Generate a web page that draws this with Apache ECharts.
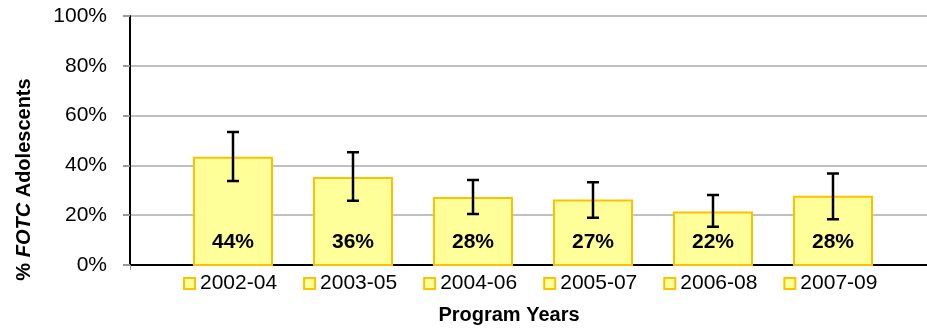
<!DOCTYPE html>
<html>
<head>
<meta charset="utf-8">
<script src="https://cdn.jsdelivr.net/npm/echarts@6/dist/echarts.min.js"></script>
<style>
  html, body { margin: 0; padding: 0; background: #fff; }
  #chart { width: 927px; height: 330px; }
</style>
</head>
<body>
<div id="chart"></div>
<script>
// program years (one bar each, shown in legend)
var years = ['2002-04', '2003-05', '2004-06', '2005-07', '2006-08', '2007-09']
// % FOTC adolescents
var pct = [43.7, 35.6, 27.6, 26.6, 21.8, 28.1]
// error bar ends
var errLow = [34.0, 26.1, 20.8, 19.3, 15.7, 18.7]
var errHigh = [53.6, 45.5, 34.4, 33.5, 28.4, 37.0]
var yTicks = [0, 20, 40, 60, 80, 100]

var font = 'Liberation Sans, Arial, sans-serif'
var chart = echarts.init(document.getElementById('chart'))

var series = years.map(function (y, i) {
  var d = years.map(function (_, j) { return j === i ? pct[i] : '-' })
  return {
    name: y,
    type: 'bar',
    xAxisIndex: 1,
    yAxisIndex: 1,
    stack: 'all',
    barWidth: 80,
    data: d,
    itemStyle: { color: '#FFFF99', borderColor: '#FFC000', borderWidth: 2 },
    label: {
      show: true,
      position: 'insideBottom',
      distance: 13,
      fontFamily: font,
      fontSize: 21,
      fontWeight: 'bold',
      color: '#000',
      formatter: function (p) { return Math.round(p.value) + '%' }
    }
  }
})

series.push({
  type: 'custom',
  xAxisIndex: 1,
  yAxisIndex: 1,
  z: 10,
  data: years.map(function (_, i) { return [i, errLow[i], errHigh[i]] }),
  renderItem: function (params, api) {
    var x = api.value(0)
    var lo = api.coord([x, api.value(1)])
    var hi = api.coord([x, api.value(2)])
    var cap = 6
    var st = { stroke: '#000', lineWidth: 2.5 }
    return {
      type: 'group',
      children: [
        { type: 'line', shape: { x1: hi[0], y1: hi[1], x2: lo[0], y2: lo[1] }, style: st },
        { type: 'line', shape: { x1: hi[0] - cap, y1: hi[1], x2: hi[0] + cap, y2: hi[1] }, style: st },
        { type: 'line', shape: { x1: lo[0] - cap, y1: lo[1], x2: lo[0] + cap, y2: lo[1] }, style: st }
      ]
    }
  }
})

var option = {
  animation: false,
  backgroundColor: '#fff',
  textStyle: { fontFamily: font },
  grid: [
    { left: 130, right: 0, top: 16, bottom: 64 },
    { left: 173, right: 34, top: 16, bottom: 64 }
  ],
  legend: {
    data: years,
    left: 183,
    top: 273,
    padding: 0,
    itemWidth: 11,
    itemHeight: 11,
    itemGap: 26,
    icon: 'rect',
    itemStyle: { color: '#FFFF99', borderColor: '#FFC000', borderWidth: 2 },
    textStyle: { fontFamily: font, fontSize: 21, color: '#000' }
  },
  xAxis: [
    {
      gridIndex: 0,
      type: 'category',
      data: [''],
      name: 'Program Years',
      nameLocation: 'middle',
      nameGap: 40,
      nameTextStyle: { fontFamily: font, fontSize: 20, fontWeight: 'bold', color: '#000', padding: [0, 39, 0, 0] },
      axisLine: { lineStyle: { color: '#000', width: 2 } },
      axisTick: { show: true, length: 5, lineStyle: { color: '#999' } },
      axisLabel: { show: false }
    },
    {
      gridIndex: 1,
      type: 'category',
      data: years,
      show: false
    }
  ],
  yAxis: [
    {
      gridIndex: 0,
      type: 'value',
      min: yTicks[0],
      max: yTicks[yTicks.length - 1],
      interval: 20,
      name: '{p|% }{i|FOTC}{p| Adolescents}',
      nameLocation: 'middle',
      nameGap: 96,
      nameTextStyle: {
        padding: [0, 78, 0, 0],
        rich: {
          p: { fontFamily: font, fontSize: 20, fontWeight: 'bold', color: '#000' },
          i: { fontFamily: font, fontSize: 20, fontWeight: 'bold', fontStyle: 'italic', color: '#000' }
        }
      },
      axisLine: { show: true, lineStyle: { color: '#000', width: 2 } },
      axisTick: { show: true, length: 7, lineStyle: { color: '#999', width: 2 } },
      axisLabel: { fontFamily: font, fontSize: 21, color: '#000', margin: 23, formatter: '{value}%' },
      splitLine: { lineStyle: { color: '#C0C0C0', width: 2 } }
    },
    {
      gridIndex: 1,
      type: 'value',
      min: 0,
      max: 100,
      show: false
    }
  ],
  series: series
}

chart.setOption(option)
</script>
</body>
</html>
